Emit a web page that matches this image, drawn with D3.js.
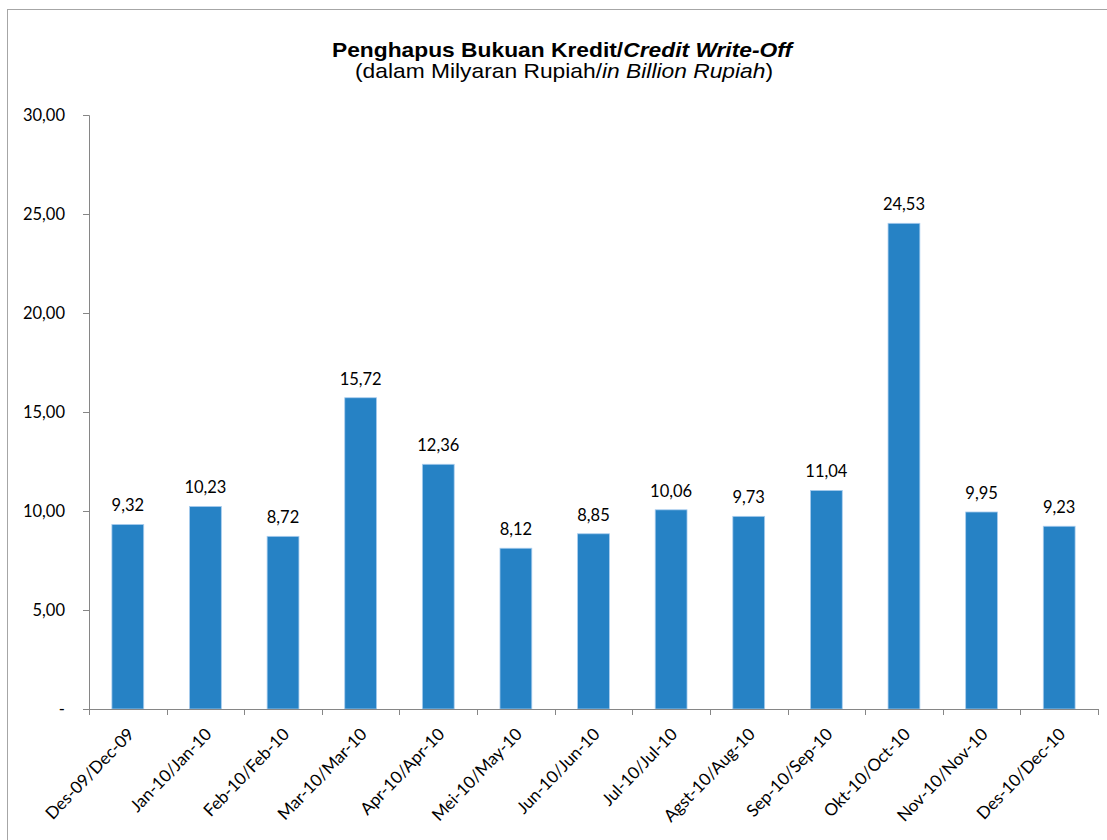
<!DOCTYPE html>
<html>
<head>
<meta charset="utf-8">
<script src="https://cdnjs.cloudflare.com/ajax/libs/d3/7.8.5/d3.min.js"></script>
<style>
  body { margin: 0; background: #fff; }
</style>
</head>
<body>
<div id="chart"></div>
<script>
var months = ['Des-09/Dec-09', 'Jan-10/Jan-10', 'Feb-10/Feb-10', 'Mar-10/Mar-10', 'Apr-10/Apr-10',
  'Mei-10/May-10', 'Jun-10/Jun-10', 'Jul-10/Jul-10', 'Agst-10/Aug-10', 'Sep-10/Sep-10',
  'Okt-10/Oct-10', 'Nov-10/Nov-10', 'Des-10/Dec-10']
var writeOff = [9.32, 10.23, 8.72, 15.72, 12.36, 8.12, 8.85, 10.06, 9.73, 11.04, 24.53, 9.95, 9.23]
var yTicks = [0, 5, 10, 15, 20, 25, 30]

var W = 1107, H = 840
var margin = { top: 115, right: 9, bottom: 131, left: 89 }
var w = W - margin.left - margin.right
var h = H - margin.top - margin.bottom

var labelFont = 'Lato, "Open Sans", sans-serif'
var titleFont = 'Arial, "Liberation Sans", Helvetica, sans-serif'

var fmt = function(v) { return v === 0 ? '-' : d3.format('.2f')(v).replace('.', ',') }

var svg = d3.select('#chart')
  .append('svg')
  .attr('width', W)
  .attr('height', H)

// chart area border
svg.append('rect')
  .attr('x', 7.5).attr('y', 9.5)
  .attr('width', W).attr('height', H)
  .attr('fill', 'none')
  .attr('stroke', '#a6a6a6')
  .attr('stroke-width', 1)

// title (the source picture is a little stretched sideways)
var title = svg.append('text')
  .attr('transform', 'translate(562,57) scale(1.14,1)')
  .attr('text-anchor', 'middle')
  .style('font-family', titleFont)
  .style('font-size', '20px')
  .style('font-weight', 'bold')
title.append('tspan').text('Penghapus Bukuan Kredit/')
title.append('tspan').style('font-style', 'italic').text('Credit Write-Off')

var sub = svg.append('text')
  .attr('transform', 'translate(564,78) scale(1.14,1)')
  .attr('text-anchor', 'middle')
  .style('font-family', titleFont)
  .style('font-size', '20px')
sub.append('tspan').text('(dalam Milyaran Rupiah/')
sub.append('tspan').style('font-style', 'italic').text('in Billion Rupiah')
sub.append('tspan').text(')')

var g = svg.append('g')
  .attr('transform', 'translate(' + margin.left + ',' + margin.top + ')')

var x = d3.scaleBand()
  .domain(months)
  .range([0, w])
  .paddingInner(0.59)
  .paddingOuter(0.295)

var y = d3.scaleLinear()
  .domain([0, 30])
  .range([h, 0])

// bars
g.selectAll('.bar')
  .data(writeOff)
  .enter().append('rect')
  .attr('class', 'bar')
  .attr('x', function(d, i) { return x(months[i]) })
  .attr('y', function(d) { return y(d) })
  .attr('width', x.bandwidth())
  .attr('height', function(d) { return h - y(d) })
  .attr('fill', '#2682c5')
  .attr('stroke', '#a9cdee')
  .attr('stroke-width', 0.8)

// value labels
g.selectAll('.val')
  .data(writeOff)
  .enter().append('text')
  .attr('class', 'val')
  .attr('x', function(d, i) { return x(months[i]) + x.bandwidth() / 2 })
  .attr('y', function(d) { return y(d) - 13 })
  .attr('text-anchor', 'middle')
  .style('font-family', labelFont)
  .style('font-size', '16.5px')
  .text(fmt)

// y axis
var yAxis = g.append('g')
  .call(d3.axisLeft(y).tickValues(yTicks).tickSize(6).tickPadding(18).tickFormat(fmt))
yAxis.selectAll('line, path').attr('stroke', '#868686')
yAxis.select('.domain').attr('d', 'M-6,0.5H0.5V' + h)
yAxis.selectAll('text')
  .style('font-family', labelFont)
  .style('font-size', '16.5px')
  .attr('fill', '#000')

// x axis with ticks at band edges
var xAxis = g.append('g')
  .attr('transform', 'translate(0,' + h + ')')
xAxis.append('line')
  .attr('x1', 0).attr('x2', w)
  .attr('y1', 0.5).attr('y2', 0.5)
  .attr('stroke', '#868686')
xAxis.selectAll('.tk')
  .data(d3.range(months.length + 1))
  .enter().append('line')
  .attr('class', 'tk')
  .attr('x1', function(i) { return Math.round(i * x.step()) + 0.5 })
  .attr('x2', function(i) { return Math.round(i * x.step()) + 0.5 })
  .attr('y1', 0).attr('y2', 6)
  .attr('stroke', '#868686')
xAxis.selectAll('.lbl')
  .data(months)
  .enter().append('text')
  .attr('class', 'lbl')
  .attr('transform', function(d) {
    return 'translate(' + (x(d) + x.bandwidth() / 2 + 3) + ',22) rotate(-46)'
  })
  .attr('text-anchor', 'end')
  .attr('dy', '0.35em')
  .style('font-family', labelFont)
  .style('font-size', '17px')
  .text(function(d) { return d })
</script>
</body>
</html>
